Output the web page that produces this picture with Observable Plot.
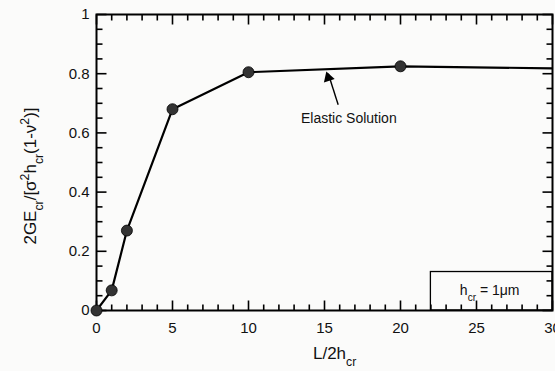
<!DOCTYPE html>
<html>
<head>
<meta charset="utf-8">
<script src="https://cdn.jsdelivr.net/npm/d3@7"></script>
<script src="https://cdn.jsdelivr.net/npm/@observablehq/plot@0.6"></script>
<style>
  html, body { margin: 0; padding: 0; background: #fbfbfa; }
  svg { font-family: "Liberation Sans", Arial, sans-serif; }
</style>
</head>
<body>
<div id="chart"></div>
<script>
// Data
const ratioL = [0, 1, 2, 5, 10, 20];
const energy = [0, 0.068, 0.27, 0.68, 0.805, 0.825];
const lineL = [0, 1, 2, 5, 10, 20, 30];
const lineE = [0, 0.068, 0.27, 0.68, 0.805, 0.825, 0.818];
const xMajorTicks = [0, 5, 10, 15, 20, 25, 30];
const xMinorTicks = [0,1,2,3,4,5,6,7,8,9,10,11,12,13,14,15,16,17,18,19,20,21,22,23,24,25,26,27,28,29,30];
const yMajorTicks = [0, 0.2, 0.4, 0.6, 0.8, 1];
const yMinorTicks = [0,0.05,0.1,0.15,0.2,0.25,0.3,0.35,0.4,0.45,0.5,0.55,0.6,0.65,0.7,0.75,0.8,0.85,0.9,0.95,1];
const legendBox = [{x1: 22, x2: 30, y1: 0, y2: 0.13}];
const annotation = {label: "Elastic Solution", x: 16.6, y: 0.648, tailX: 15.9, tailY: 0.695, tipX: 15.25, tipY: 0.80};

const points = ratioL.map((x, i) => ({x, y: energy[i]}));
const lineData = lineL.map((x, i) => ({x, y: lineE[i]}));

const W = 555, H = 371;
const mL = 96, mR = 3, mT = 14, mB = 61;
const pxX = 30 / (W - mL - mR), pxY = 1 / (H - mT - mB);

// inward tick segments: 10px at labelled values, 6px otherwise (converted to data units)
const tickSegs = [];
xMinorTicks.forEach(v => {
  const l = (v % 5 === 0 ? 10 : 6) * pxY;
  tickSegs.push({x1: v, x2: v, y1: 0, y2: l});
  tickSegs.push({x1: v, x2: v, y1: 1, y2: 1 - l});
});
yMinorTicks.forEach((v, i) => {
  const l = (i % 4 === 0 ? 10 : 6) * pxX;
  tickSegs.push({x1: 0, x2: l, y1: v, y2: v});
  tickSegs.push({x1: 30, x2: 30 - l, y1: v, y2: v});
});

const ang = Math.atan2((annotation.tipX - annotation.tailX) / pxX, (annotation.tipY - annotation.tailY) / pxY) * 180 / Math.PI;

const plot = Plot.plot({
  width: W, height: H,
  marginLeft: mL, marginRight: mR, marginTop: mT, marginBottom: mB,
  x: {domain: [0, 30], ticks: xMajorTicks, tickSize: 0, tickPadding: 12, label: null},
  y: {domain: [0, 1], ticks: yMajorTicks, tickSize: 0, tickPadding: 7, label: null, tickFormat: d => d === 0 ? "0" : d === 1 ? "1" : d.toFixed(1)},
  marks: [
    Plot.frame({stroke: "black", strokeWidth: 2, fill: "none"}),
    Plot.link(tickSegs, {x1: "x1", x2: "x2", y1: "y1", y2: "y2", stroke: "black", strokeWidth: 1.6}),
    Plot.rect(legendBox, {x1: "x1", x2: "x2", y1: "y1", y2: "y2", stroke: "black", strokeWidth: 1.3, fill: "none"}),
    Plot.line(lineData, {x: "x", y: "y", stroke: "black", strokeWidth: 2.2, clip: true}),
    Plot.dot(points, {x: "x", y: "y", r: 5.5, fill: "#333", stroke: "black", strokeWidth: 0.8}),
    Plot.link([annotation], {x1: "tailX", y1: "tailY", x2: "tipX", y2: "tipY", stroke: "black", strokeWidth: 1.4}),
    Plot.dot([annotation], {x: "tipX", y: "tipY", symbol: "triangle", r: 4.2, fill: "black", stroke: "none", rotate: ang, dy: 4}),
    Plot.text([annotation], {x: "x", y: "y", text: "label", fontSize: 14, fill: "#111"})
  ]
});

document.getElementById("chart").appendChild(plot);

const svg = d3.select(plot);
svg.style("font-family", "Liberation Sans, Arial, sans-serif").style("background", "transparent").style("color", "#111");
svg.selectAll("g[aria-label='x-axis tick label'], g[aria-label='y-axis tick label']").attr("font-size", 15);

const sx = plot.scale("x"), sy = plot.scale("y");

function richText(g, parts) {
  parts.forEach(p => {
    const t = g.append("tspan").text(p.t);
    if (p.sub) t.attr("baseline-shift", "sub").attr("font-size", "0.72em");
    if (p.sup) t.attr("baseline-shift", "super").attr("font-size", "0.72em");
  });
}

const xl = svg.append("text")
  .attr("x", sx.apply(15.7)).attr("y", H - 12)
  .attr("text-anchor", "middle").attr("font-size", 17).attr("fill", "#111");
richText(xl, [{t: "L/2h"}, {t: "cr", sub: true}]);

const yl = svg.append("text")
  .attr("transform", `translate(36, ${(sy.apply(0) + sy.apply(1)) / 2 + 14}) rotate(-90)`)
  .attr("text-anchor", "middle").attr("font-size", 17).attr("fill", "#111");
richText(yl, [{t: "2GE"}, {t: "cr", sub: true}, {t: "/[σ"}, {t: "2", sup: true}, {t: "h"}, {t: "cr", sub: true}, {t: "(1-ν"}, {t: "2", sup: true}, {t: ")]"}]);

const lt = svg.append("text")
  .attr("x", sx.apply(25.9)).attr("y", sy.apply(0.052))
  .attr("text-anchor", "middle").attr("font-size", 14).attr("fill", "#111");
richText(lt, [{t: "h"}, {t: "cr", sub: true}, {t: " = 1μm"}]);
</script>
</body>
</html>
